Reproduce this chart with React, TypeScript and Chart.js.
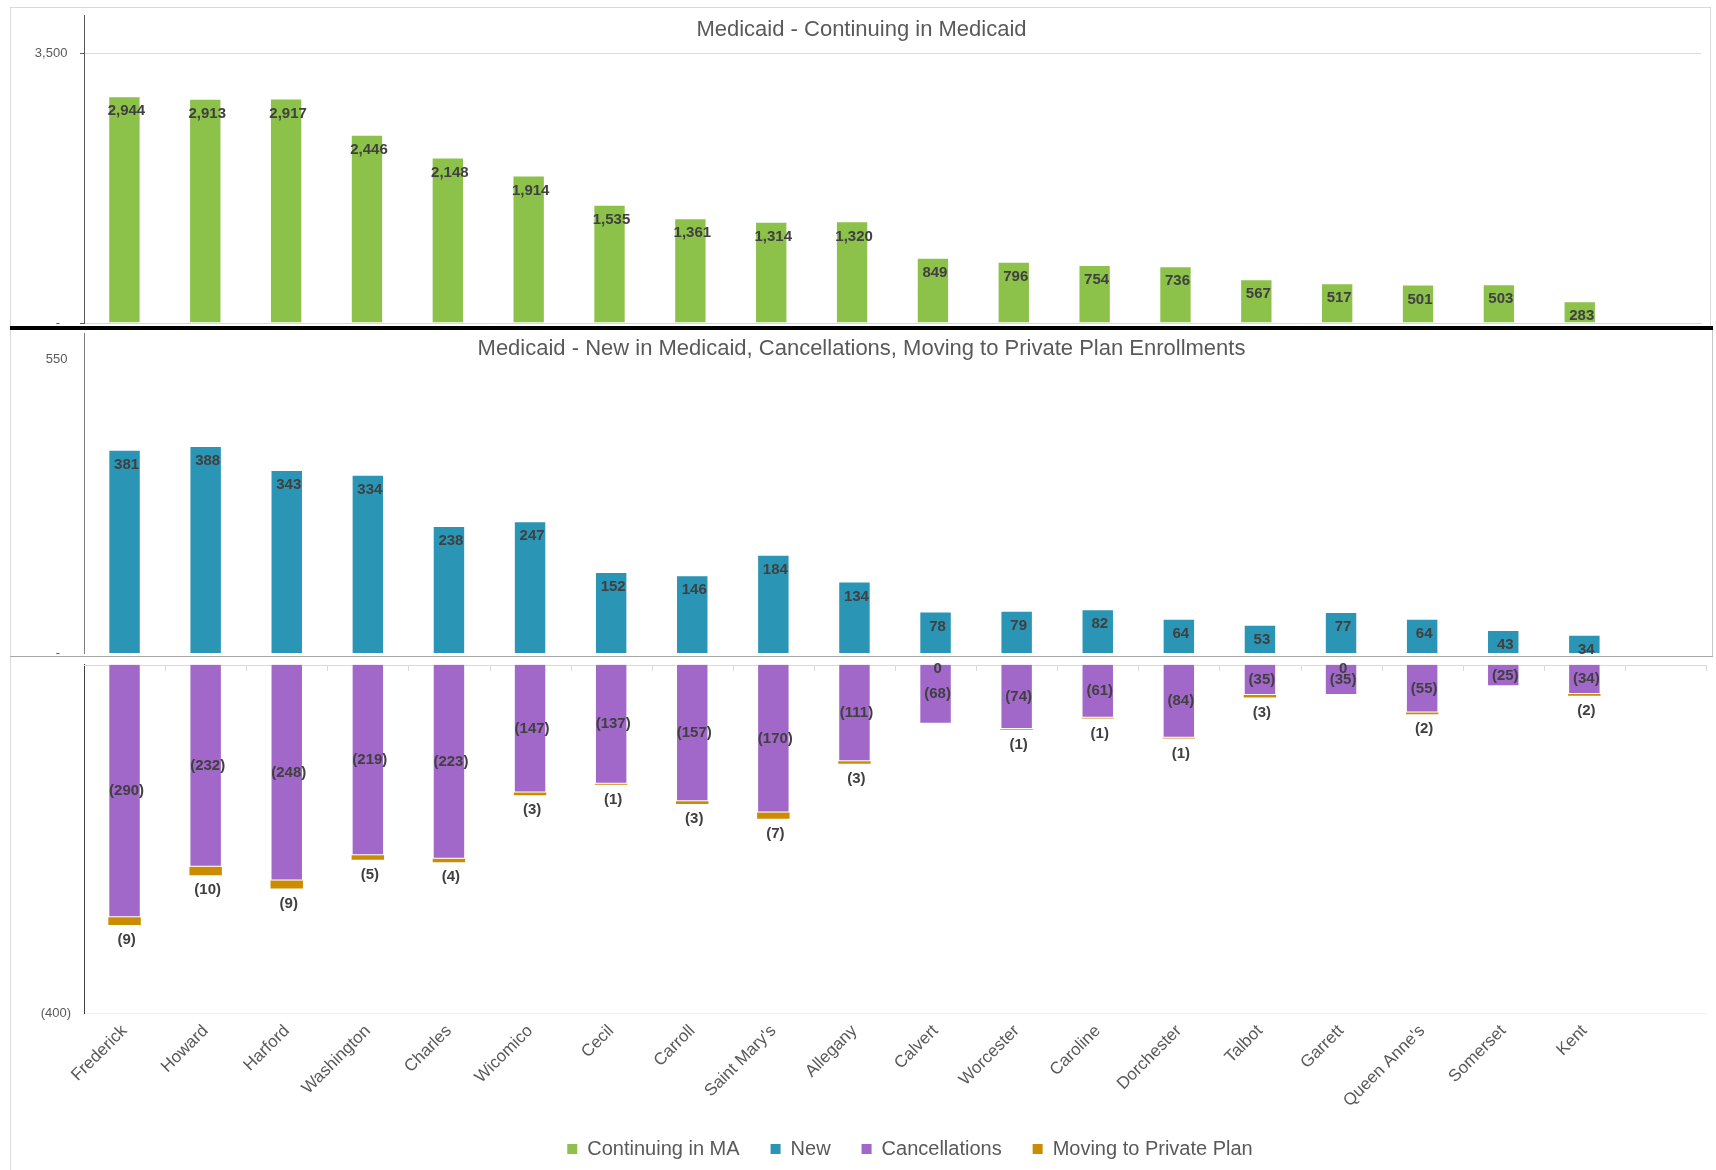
import React, { useEffect, useRef } from "react";
import { Chart, registerables } from "chart.js";

Chart.register(...registerables);

// ---------- data ----------
const COUNTIES = [
  "Frederick", "Howard", "Harford", "Washington", "Charles", "Wicomico", "Cecil",
  "Carroll", "Saint Mary's", "Allegany", "Calvert", "Worcester", "Caroline",
  "Dorchester", "Talbot", "Garrett", "Queen Anne's", "Somerset", "Kent", "",
];
const CONTINUING = [2944, 2913, 2917, 2446, 2148, 1914, 1535, 1361, 1314, 1320, 849, 796, 754, 736, 567, 517, 501, 503, 283];
const NEW_ENROLL = [381, 388, 343, 334, 238, 247, 152, 146, 184, 134, 78, 79, 82, 64, 53, 77, 64, 43, 34];
const CANCELLATIONS = [-290, -232, -248, -219, -223, -147, -137, -157, -170, -111, -68, -74, -61, -84, -35, -35, -55, -25, -34];
const MOVING = [-9, -10, -9, -5, -4, -3, -1, -3, -7, -3, 0, -1, -1, -1, -3, 0, -2, null, -2];

const SERIES_NAMES = ["Continuing in MA", "New", "Cancellations", "Moving to Private Plan"];
const SERIES_COLORS = ["#8CC14A", "#2A95B4", "#A167C9", "#CC8C00"];

const TITLE_TOP = "Medicaid - Continuing in Medicaid";
const TITLE_BOTTOM = "Medicaid - New in Medicaid, Cancellations, Moving to Private Plan Enrollments";

const TOP_TICKS = [0, 3500];
const TOP_MAX = 4000;
const MID_TICKS = [0, 550];
const MID_MAX = 600;
const LOW_TICKS = [-400];
const LOW_MIN = -400;

// ---------- styling ----------
const FONT = "'Liberation Sans', Arial, sans-serif";
const TEXT_GREY = "#595959";
const LABEL_DARK = "#404040";
const LEGEND_SHIFT = 52;
const Y_AXIS_WIDTH = 74;

const fmtValue = (v: number) => {
  const s = Math.abs(v).toLocaleString("en-US");
  return v < 0 ? `(${s})` : s;
};
const fmtTick = (v: number) => {
  if (v === 0) return "-   ";
  if (v < 0) return `(${Math.abs(v).toLocaleString("en-US")})`;
  return `${v.toLocaleString("en-US")} `;
};

const fitY = (s: any) => {
  s.width = Y_AXIS_WIDTH;
  s.paddingTop = 0;
  s.paddingBottom = 0;
};

const dataLabelPlugin = {
  id: "barValueLabels",
  afterDatasetsDraw(chart: any) {
    const ctx = chart.ctx;
    ctx.save();
    ctx.font = `bold 15px ${FONT}`;
    ctx.fillStyle = LABEL_DARK;
    ctx.textAlign = "center";
    ctx.textBaseline = "middle";
    chart.data.datasets.forEach((ds: any, di: number) => {
      const mode = ds.labelMode;
      if (!mode) return;
      const meta = chart.getDatasetMeta(di);
      const yScale = chart.scales[meta.yAxisID];
      meta.data.forEach((el: any, i: number) => {
        const v = ds.data[i];
        if (v === null || v === undefined) return;
        const { x, y, base } = el.getProps(["x", "y", "base"], true);
        let ty: number;
        if (mode === "insideEnd") ty = y + 15;
        else if (mode === "center") ty = (y + base) / 2;
        else ty = v === 0 ? yScale.getPixelForValue(0) + 4 : y + 15;
        ctx.fillText(fmtValue(v), x + 2, ty);
      });
    });
    ctx.restore();
  },
};

const panelTitlePlugin = {
  id: "panelTitle",
  afterDraw(chart: any, _args: any, opts: any) {
    if (!opts || !opts.text) return;
    const ctx = chart.ctx;
    ctx.save();
    ctx.font = `22px ${FONT}`;
    ctx.fillStyle = TEXT_GREY;
    ctx.textAlign = "center";
    ctx.textBaseline = "middle";
    ctx.fillText(opts.text, chart.width / 2, opts.y);
    ctx.restore();
  },
};

const zeroAxisPlugin = {
  id: "zeroAxis",
  beforeDatasetsDraw(chart: any) {
    const { ctx, chartArea, scales } = chart;
    const y0 = scales.y.getPixelForValue(0);
    const xs = scales.x;
    const n = xs.ticks.length;
    const w = (chartArea.right - chartArea.left) / n;
    ctx.save();
    ctx.strokeStyle = "#d9d9d9";
    ctx.lineWidth = 1;
    ctx.beginPath();
    ctx.moveTo(chartArea.left, Math.round(y0) + 0.5);
    ctx.lineTo(chartArea.right, Math.round(y0) + 0.5);
    for (let i = 1; i <= n; i++) {
      const x = Math.round(chartArea.left + i * w) + 0.5;
      ctx.moveTo(x, Math.round(y0));
      ctx.lineTo(x, Math.round(y0) + 6);
    }
    ctx.stroke();
    ctx.restore();
  },
};

const legendShiftPlugin = {
  id: "legendShift",
  afterLayout(chart: any) {
    const lg = chart.legend;
    if (lg) {
      lg.left += LEGEND_SHIFT;
      lg.right += LEGEND_SHIFT;
    }
  },
};

export default function App() {
  const topRef = useRef<HTMLCanvasElement>(null);
  const midRef = useRef<HTMLCanvasElement>(null);
  const lowRef = useRef<HTMLCanvasElement>(null);

  useEffect(() => {
    document.body.style.margin = "0";
    Chart.defaults.font.family = FONT;
    Chart.defaults.color = TEXT_GREY;
    const charts: Chart[] = [];

    // ---------- top: continuing ----------
    charts.push(
      new Chart(topRef.current as HTMLCanvasElement, {
        type: "bar",
        data: {
          labels: COUNTIES,
          datasets: [
            {
              label: SERIES_NAMES[0],
              data: CONTINUING,
              backgroundColor: SERIES_COLORS[0],
              borderColor: "rgba(255,255,255,0.55)",
              borderWidth: 1,
              barPercentage: 0.4,
              categoryPercentage: 1,
              labelMode: "insideEnd",
            } as any,
          ],
        },
        options: {
          responsive: false,
          animation: false,
          events: [],
          layout: { padding: { top: 8, bottom: 4, left: 0, right: 12 } },
          plugins: {
            legend: { display: false },
            tooltip: { enabled: false },
            panelTitle: { text: TITLE_TOP, y: 23 },
          } as any,
          scales: {
            x: {
              display: true,
              grid: { display: false, drawTicks: false },
              ticks: { display: false },
              border: { display: true, color: "#d9d9d9" },
              afterFit: (s: any) => { s.height = 0; },
            },
            y: {
              min: 0,
              max: TOP_MAX,
              afterBuildTicks: (s: any) => { s.ticks = TOP_TICKS.map((v) => ({ value: v })); },
              afterFit: fitY,
              ticks: { callback: (v: any) => fmtTick(Number(v)), font: { size: 13 }, color: TEXT_GREY, padding: 9 },
              grid: {
                color: (c: any) => (c.tick && c.tick.value === 3500 ? "#d9d9d9" : "rgba(0,0,0,0)"),
                tickColor: "#595959",
                tickLength: 4,
                drawTicks: true,
              },
              border: { display: true, color: "#595959" },
            },
          },
        },
        plugins: [dataLabelPlugin, panelTitlePlugin],
      } as any)
    );

    // ---------- middle: new ----------
    charts.push(
      new Chart(midRef.current as HTMLCanvasElement, {
        type: "bar",
        data: {
          labels: COUNTIES,
          datasets: [
            {
              label: SERIES_NAMES[1],
              data: NEW_ENROLL,
              backgroundColor: SERIES_COLORS[1],
              borderColor: "rgba(255,255,255,0.45)",
              borderWidth: 1,
              barPercentage: 0.4,
              categoryPercentage: 1,
              labelMode: "insideEnd",
            } as any,
          ],
        },
        options: {
          responsive: false,
          animation: false,
          events: [],
          layout: { padding: { top: 2, bottom: 3, left: 0, right: 7 } },
          plugins: {
            legend: { display: false },
            tooltip: { enabled: false },
            panelTitle: { text: TITLE_BOTTOM, y: 18 },
          } as any,
          scales: {
            x: { display: false },
            y: {
              min: 0,
              max: MID_MAX,
              afterBuildTicks: (s: any) => { s.ticks = MID_TICKS.map((v) => ({ value: v })); },
              afterFit: fitY,
              ticks: { callback: (v: any) => fmtTick(Number(v)), font: { size: 13 }, color: TEXT_GREY, padding: 13 },
              grid: { display: false, drawTicks: false },
              border: { display: true, color: "#7f7f7f" },
            },
          },
        },
        plugins: [dataLabelPlugin, panelTitlePlugin],
      } as any)
    );

    // ---------- lower: cancellations + moving ----------
    charts.push(
      new Chart(lowRef.current as HTMLCanvasElement, {
        type: "bar",
        data: {
          labels: COUNTIES,
          datasets: [
            {
              label: SERIES_NAMES[2],
              data: CANCELLATIONS,
              backgroundColor: SERIES_COLORS[2],
              borderColor: "rgba(255,255,255,0.45)",
              borderWidth: 1,
              barPercentage: 0.4,
              categoryPercentage: 1,
              stack: "s",
              labelMode: "center",
            } as any,
            {
              label: SERIES_NAMES[3],
              data: MOVING,
              backgroundColor: SERIES_COLORS[3],
              borderWidth: 0,
              barPercentage: 0.4,
              categoryPercentage: 1,
              stack: "s",
              labelMode: "outsideEnd",
            } as any,
          ],
        },
        options: {
          responsive: false,
          animation: false,
          events: [],
          layout: { padding: { top: 7.5, bottom: 0, left: 0, right: 7 } },
          plugins: {
            tooltip: { enabled: false },
            legend: {
              display: true,
              position: "bottom",
              onClick: () => {},
              labels: {
                boxWidth: 10,
                boxHeight: 10,
                padding: 31,
                color: TEXT_GREY,
                font: { size: 20 },
                generateLabels: () =>
                  SERIES_NAMES.map((t, i) => ({
                    text: t,
                    fillStyle: SERIES_COLORS[i],
                    strokeStyle: SERIES_COLORS[i],
                    lineWidth: 0,
                    hidden: false,
                    datasetIndex: i,
                    fontColor: TEXT_GREY,
                  })),
              },
            },
          } as any,
          scales: {
            x: {
              stacked: true,
              grid: { display: false, drawTicks: false },
              border: { display: true, color: "#f0f0f0" },
              ticks: {
                autoSkip: false,
                minRotation: 45,
                maxRotation: 45,
                padding: 8,
                font: { size: 17 },
                color: TEXT_GREY,
              },
              afterFit: (s: any) => { s.height = 95; },
            },
            y: {
              stacked: true,
              min: LOW_MIN,
              max: 0,
              afterBuildTicks: (s: any) => { s.ticks = LOW_TICKS.map((v) => ({ value: v })); },
              afterFit: fitY,
              ticks: { callback: (v: any) => fmtTick(Number(v)), font: { size: 13 }, color: TEXT_GREY, padding: 13 },
              grid: { display: false, drawTicks: false },
              border: { display: true, color: "#404040" },
            },
          },
        },
        plugins: [zeroAxisPlugin, dataLabelPlugin, legendShiftPlugin],
      } as any)
    );

    return () => charts.forEach((c) => c.destroy());
  }, []);

  const line = (left: number, top: number, width: number, height: number, bg: string) => (
    <div style={{ position: "absolute", left, top, width, height, background: bg }} />
  );

  return (
    <div style={{ position: "relative", width: 1716, height: 1170, overflow: "hidden", background: "#fff" }}>
      {line(10, 7, 1701, 1, "#d9d9d9")}
      {line(10, 7, 1, 1163, "#d9d9d9")}
      {line(1710, 7, 1, 320, "#d9d9d9")}
      {line(1712, 330, 1, 327, "#c8c8c8")}
      {line(10, 656, 1703, 1, "#a6a6a6")}
      <canvas ref={topRef} width={1703} height={320} style={{ position: "absolute", left: 10, top: 7 }} />
      <canvas ref={midRef} width={1703} height={325} style={{ position: "absolute", left: 10, top: 331 }} />
      <canvas ref={lowRef} width={1703} height={512} style={{ position: "absolute", left: 10, top: 657 }} />
      {line(10, 326, 1703, 4, "#000")}
    </div>
  );
}
